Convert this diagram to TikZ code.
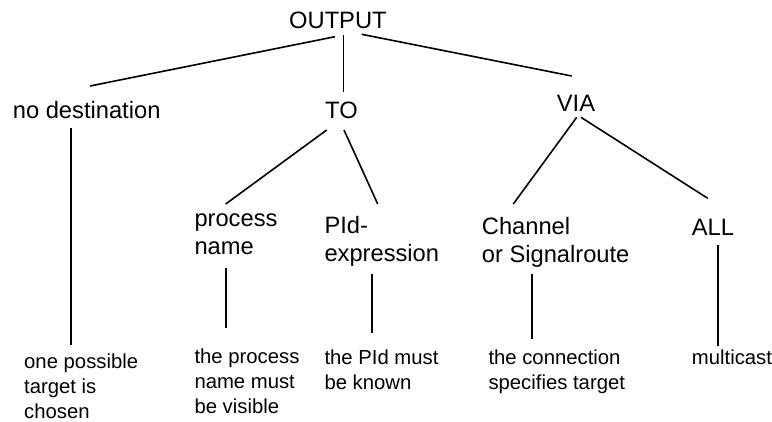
\documentclass[tikz,border=0pt]{standalone}
\usepackage{fontspec}
\setmainfont{Liberation Sans}

\begin{document}
\begin{tikzpicture}[x=1pt,y=-1pt,
	head/.style={inner sep=0pt,anchor=base west,align=left,font=\fontsize{23.7}{28}\selectfont},
	note/.style={inner sep=0pt,anchor=base west,align=left,font=\fontsize{20.3}{25}\selectfont},
	branch/.style={line width=1.6pt}]
	\useasboundingbox (0,0) rectangle (772,421);
	%% root
	\node[head] (out) at (289,28) {OUTPUT};
	%% first level
	\node[head] (nodest) at (12.7,118) {no destination};
	\node[head] (to) at (325,118) {TO};
	\node[head] (via) at (556.7,111) {VIA};
	%% second level (base = last line)
	\node[head] (pname) at (194.3,254.5) {process\\name};
	\node[head] (pidexp) at (324.3,261.5) {PId-\\expression};
	\node[head] (chan) at (481.7,262.5) {Channel\\or Signalroute};
	\node[head] (all) at (691.7,235) {ALL};
	%% remarks
	\node[note] (chosen) at (24,418) {one possible\\target is\\chosen};
	\node[note] (visible) at (194.3,413.5) {the process\\name must\\be visible};
	\node[note] (known) at (324.3,389) {the PId must\\be known};
	\node[note] (spec) at (488.3,389) {the connection\\specifies target};
	\node[note] (mcast) at (691.7,364) {multicast};
	% tree lines
	\draw[branch] ([shift={(46,8.7)}]out.base west) -- ([shift={(77.3,-32)}]nodest.base west);
	\draw[branch] ([shift={(54.3,7)}]out.base west) -- ([shift={(18.3,-26.3)}]to.base west);
	\draw[branch] ([shift={(72.7,6.3)}]out.base west) -- ([shift={(15,-35)}]via.base west);
	\draw[branch] ([shift={(58.3,10)}]nodest.base west) -- ([shift={(47,-73)}]chosen.base west);
	\draw[branch] ([shift={(1.7,12)}]to.base west) -- ([shift={(31.4,-50.5)}]pname.base west);
	\draw[branch] ([shift={(19,12)}]to.base west) -- ([shift={(53.4,-57.5)}]pidexp.base west);
	\draw[branch] ([shift={(20,6.3)}]via.base west) -- ([shift={(31.6,-58.5)}]chan.base west);
	\draw[branch] ([shift={(24.3,6.3)}]via.base west) -- ([shift={(16,-36.7)}]all.base west);
	% lines to the remarks
	\draw[branch] ([shift={(31.4,13.8)}]pname.base west) -- ([shift={(31.4,-85.2)}]visible.base west);
	\draw[branch] ([shift={(47.4,12.5)}]pidexp.base west) -- ([shift={(47.4,-56.3)}]known.base west);
	\draw[branch] ([shift={(50,11.5)}]chan.base west) -- ([shift={(43.4,-49.7)}]spec.base west);
	\draw[branch] ([shift={(26,10)}]all.base west) -- ([shift={(26,-18.3)}]mcast.base west);
\end{tikzpicture}
\end{document}
